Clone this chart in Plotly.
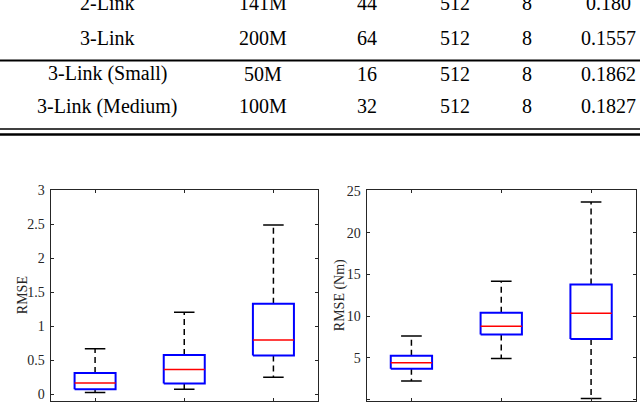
import plotly.graph_objects as go

# table rows (top of the page, partly cut off)
model_names = ["2-Link", "3-Link", "3-Link (Small)", "3-Link (Medium)"]
param_counts = ["141M", "200M", "50M", "100M"]
layers = ["44", "64", "16", "32"]
hidden = ["512", "512", "512", "512"]
heads = ["8", "8", "8", "8"]
scores = ["0.180", "0.1557", "0.1862", "0.1827"]

# box plot stats, left panel (RMSE)
left_lo = [0.024, 0.073, 0.247]
left_q1 = [0.073, 0.155, 0.568]
left_med = [0.165, 0.363, 0.797]
left_q3 = [0.31, 0.576, 1.33]
left_hi = [0.668, 1.205, 2.49]

# box plot stats, right panel (RMSE in Nm)
right_lo = [2.22, 4.92, 0.14]
right_q1 = [3.71, 7.82, 7.27]
right_med = [4.42, 8.8, 10.35]
right_q3 = [5.25, 10.4, 13.8]
right_hi = [7.63, 14.2, 23.7]

groups = [1, 2, 3]

W, H = 640, 405
serif = "Liberation Serif"
axcol = "#262626"


def py(y):
    return 1 - y / H


fig = go.Figure()


def add_boxes(lo, q1, med, q3, hi, xa, ya):
    w = 0.23
    cw = 0.115
    for c, a, b, m, d, e in zip(groups, lo, q1, med, q3, hi):
        fig.add_trace(go.Scatter(
            x=[c, c, None, c, c], y=[d, e, None, b, a], mode="lines",
            line=dict(color="black", width=1.5, dash="6px,4px"),
            xaxis=xa, yaxis=ya, showlegend=False, hoverinfo="skip"))
        fig.add_trace(go.Scatter(
            x=[c - cw, c + cw, None, c - cw, c + cw], y=[e, e, None, a, a], mode="lines",
            line=dict(color="black", width=1.5),
            xaxis=xa, yaxis=ya, showlegend=False, hoverinfo="skip"))
        fig.add_trace(go.Scatter(
            x=[c - w, c + w, c + w, c - w, c - w], y=[b, b, d, d, b], mode="lines",
            line=dict(color="#0000ff", width=2),
            xaxis=xa, yaxis=ya, showlegend=False, hoverinfo="skip"))
        fig.add_trace(go.Scatter(
            x=[c - w, c + w], y=[m, m], mode="lines",
            line=dict(color="#ff0000", width=1.5),
            xaxis=xa, yaxis=ya, showlegend=False, hoverinfo="skip"))


add_boxes(left_lo, left_q1, left_med, left_q3, left_hi, "x", "y")
add_boxes(right_lo, right_q1, right_med, right_q3, right_hi, "x2", "y2")

xcommon = dict(range=[0.5, 3.5], tickvals=groups, showticklabels=False,
               ticks="inside", ticklen=3, tickcolor=axcol, showline=True,
               linecolor=axcol, linewidth=1, mirror="ticks", showgrid=False,
               zeroline=False)
ycommon = dict(ticks="inside", ticklen=3, tickcolor=axcol, showline=True,
               linecolor=axcol, linewidth=1, mirror="ticks", showgrid=False,
               zeroline=False, tickfont=dict(family=serif, size=14, color=axcol),
               ticklabelstandoff=2)

fig.update_layout(
    width=W, height=H,
    margin=dict(l=0, r=0, t=0, b=0),
    paper_bgcolor="white", plot_bgcolor="white",
    xaxis=dict(domain=[50.5 / W, 318 / W], anchor="y", **xcommon),
    yaxis=dict(domain=[py(401.5), py(187)], anchor="x", range=[-0.095, 3.0],
               tickvals=[0, 0.5, 1, 1.5, 2, 2.5, 3],
               ticktext=["0", "0.5", "1", "1.5", "2", "2.5", "3"], **ycommon),
    xaxis2=dict(domain=[366.5 / W, 636 / W], anchor="y2", **xcommon),
    yaxis2=dict(domain=[py(401.5), py(187)], anchor="x2", range=[-0.12, 25.1],
                tickvals=[0, 5, 10, 15, 20, 25], **ycommon),
)

# y axis titles
fig.add_annotation(text="RMSE", x=22 / W, y=py(294), xref="paper", yref="paper",
                   xanchor="center", yanchor="middle",
                   textangle=-90, showarrow=False,
                   font=dict(family=serif, size=14, color=axcol))
fig.add_annotation(text="RMSE (Nm)", x=340 / W, y=py(294), xref="paper", yref="paper",
                   xanchor="center", yanchor="middle",
                   textangle=-90, showarrow=False,
                   font=dict(family=serif, size=14, color=axcol))

# table text
col_x = [107, 263, 367, 455, 527, 608]
row_y = [-4, 32, 68, 101]
cols = [model_names, param_counts, layers, hidden, heads, scores]
for cx, col in zip(col_x, cols):
    for ry, txt in zip(row_y, col):
        fig.add_annotation(text=txt, x=cx / W, y=py(ry), xref="paper", yref="paper",
                           xanchor="center", yanchor="middle", showarrow=False,
                           font=dict(family=serif, size=20, color="black"))

# table rules
for yy, lw in [(54.5, 2), (124.5, 1.5), (130, 2.5)]:
    fig.add_shape(type="line", xref="paper", yref="paper", x0=0, x1=1,
                  y0=py(yy), y1=py(yy), line=dict(color="black", width=lw))

fig.write_html("out.html", config={"displayModeBar": False},
               post_script="document.body.style.margin='0';document.body.style.overflow='hidden';")
